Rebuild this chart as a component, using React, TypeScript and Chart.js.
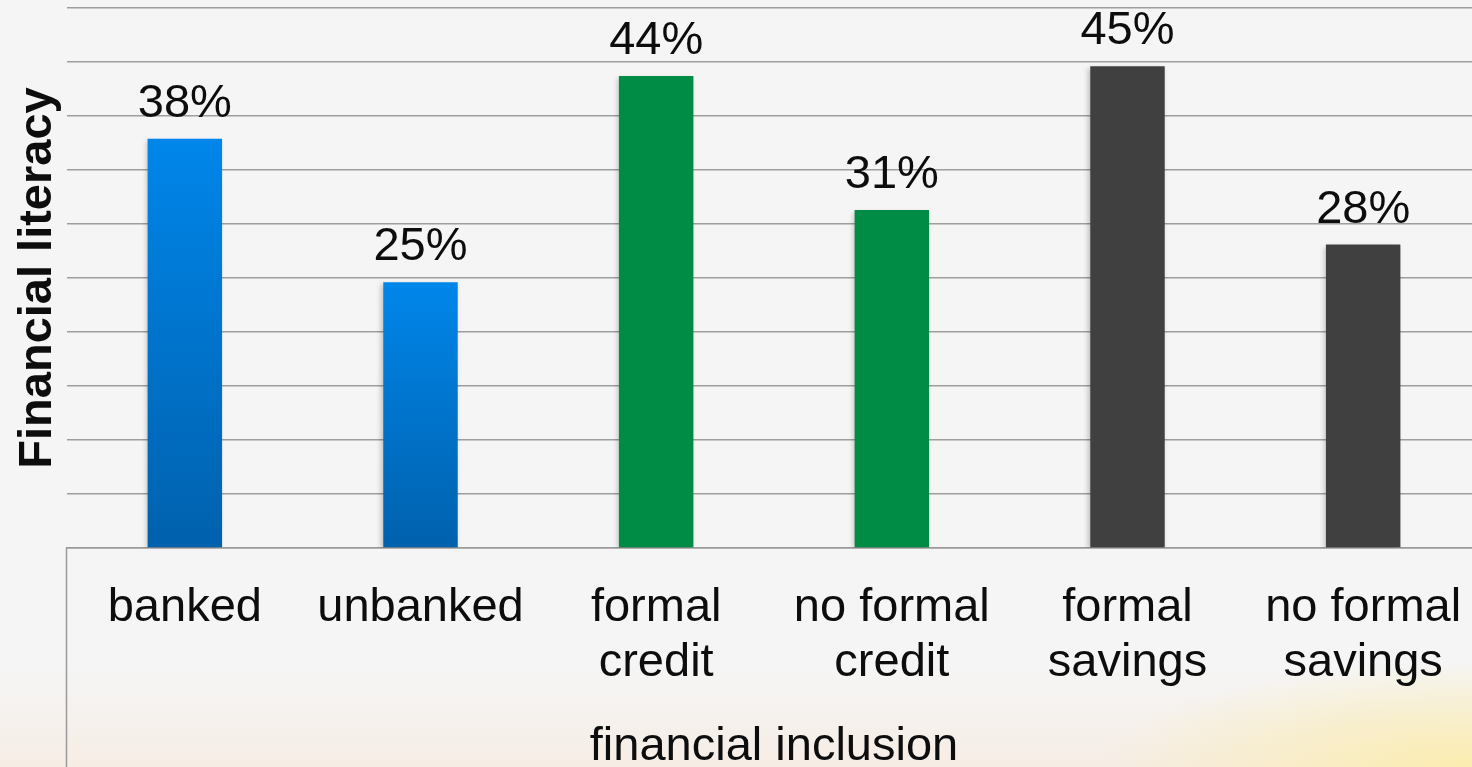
import React, { useEffect, useRef } from "react";
import { Chart, registerables } from "chart.js";

Chart.register(...registerables);

const categories: string[][] = [
  ["banked"],
  ["unbanked"],
  ["formal", "credit"],
  ["no formal", "credit"],
  ["formal", "savings"],
  ["no formal", "savings"],
];
const literacyValues: number[] = [37.9, 24.6, 43.7, 31.3, 44.6, 28.1];
const valueLabels: string[] = ["38%", "25%", "44%", "31%", "45%", "28%"];
const barGroups: string[] = ["banked", "banked", "credit", "credit", "savings", "savings"];
const yTicks: number[] = [0, 5, 10, 15, 20, 25, 30, 35, 40, 45, 50];
const yTitle = "Financial literacy";
const xTitle = "financial inclusion";

const FONT = '"Liberation Sans", Arial, sans-serif';
const CW = 1481;
const CH = 767;

export default function App() {
  const ref = useRef<HTMLCanvasElement | null>(null);

  useEffect(() => {
    if (!ref.current) return;

    const shadowPlugin = {
      id: "barShadow",
      beforeDatasetsDraw(chart: any) {
        const ctx = chart.ctx;
        ctx.save();
        ctx.shadowColor = "rgba(0,0,0,0.22)";
        ctx.shadowBlur = 5;
        ctx.shadowOffsetX = -2;
        ctx.shadowOffsetY = 2;
      },
      afterDatasetsDraw(chart: any) {
        chart.ctx.restore();
      },
    };

    const labelPlugin = {
      id: "valueLabels",
      afterDatasetsDraw(chart: any) {
        const ctx = chart.ctx;
        const meta = chart.getDatasetMeta(0);
        ctx.save();
        ctx.font = `47px ${FONT}`;
        ctx.fillStyle = "#0d0d0d";
        ctx.textAlign = "center";
        ctx.textBaseline = "alphabetic";
        meta.data.forEach((bar: any, i: number) => {
          ctx.fillText(valueLabels[i], bar.x, bar.y - 22);
        });
        ctx.restore();
      },
    };

    const axisBoxPlugin = {
      id: "axisBox",
      afterDraw(chart: any) {
        const ctx = chart.ctx;
        const a = chart.chartArea;
        ctx.save();
        ctx.strokeStyle = "#9a9a9a";
        ctx.lineWidth = 1.5;
        ctx.beginPath();
        ctx.moveTo(a.left - 0.5, a.bottom);
        ctx.lineTo(a.left - 0.5, chart.height);
        ctx.stroke();
        ctx.restore();
      },
    };

    const chart = new Chart(ref.current, {
      type: "bar",
      data: {
        labels: categories,
        datasets: [
          {
            data: literacyValues,
            backgroundColor: (c: any) => {
              const i = c.dataIndex;
              const g = barGroups[i];
              if (g === "credit") return "#008C44";
              if (g === "savings") return "#404040";
              const ch = c.chart;
              const area = ch.chartArea;
              if (!area || !ch.scales.y) return "#0078D4";
              const top = ch.scales.y.getPixelForValue(literacyValues[i]);
              const grad = ch.ctx.createLinearGradient(0, top, 0, area.bottom);
              grad.addColorStop(0, "#0086EA");
              grad.addColorStop(1, "#0061AD");
              return grad;
            },
            borderWidth: 0,
            categoryPercentage: 1,
            barPercentage: 0.316,
          },
        ],
      },
      options: {
        animation: false,
        responsive: false,
        maintainAspectRatio: false,
        devicePixelRatio: 1,
        layout: { padding: { top: 8, left: 0, right: 0, bottom: 0 } },
        plugins: {
          legend: { display: false },
          tooltip: { enabled: false },
        },
        scales: {
          x: {
            offset: true,
            grid: { display: false, drawTicks: false },
            border: { display: true, color: "#9a9a9a", width: 1.5 },
            ticks: {
              color: "#0d0d0d",
              font: { family: FONT, size: 47, lineHeight: 1.17 },
              padding: 33,
              maxRotation: 0,
              autoSkip: false,
            },
            title: {
              display: true,
              text: xTitle,
              color: "#0d0d0d",
              font: { family: FONT, size: 47, lineHeight: 0.85 },
              padding: { top: 0, bottom: 0 },
            },
            afterFit: (s: any) => {
              s.height = 219;
              s.paddingLeft = 0;
              s.paddingRight = 0;
            },
          },
          y: {
            min: 0,
            max: 50,
            afterBuildTicks: (s: any) => {
              s.ticks = yTicks.map((v) => ({ value: v }));
            },
            grid: { color: "#9e9e9e", lineWidth: 1.5, drawTicks: false },
            border: { display: false },
            ticks: { display: false },
            title: {
              display: true,
              text: yTitle,
              color: "#0d0d0d",
              font: { family: FONT, size: 47, weight: "bold", lineHeight: 1.2 },
              padding: { top: 10, bottom: 0 },
            },
            afterFit: (s: any) => {
              s.width = 67;
              s.paddingTop = 0;
              s.paddingBottom = 0;
            },
          },
        },
      },
      plugins: [shadowPlugin, labelPlugin, axisBoxPlugin],
    } as any);

    return () => chart.destroy();
  }, []);

  return (
    <div
      style={{
        position: "fixed",
        left: 0,
        top: 0,
        width: "1472px",
        height: "767px",
        overflow: "hidden",
        background:
          "radial-gradient(ellipse 25% 14% at 100% 100%, rgba(252,236,160,0.8) 0%, rgba(252,236,160,0) 100%), " +
          "linear-gradient(to bottom, #f5f5f5 0%, #f5f5f5 87%, #f6ede5 100%)",
      }}
    >
      <canvas
        ref={ref}
        width={CW}
        height={CH}
        style={{ position: "absolute", left: 0, top: 0, width: CW + "px", height: CH + "px" }}
      />
    </div>
  );
}
